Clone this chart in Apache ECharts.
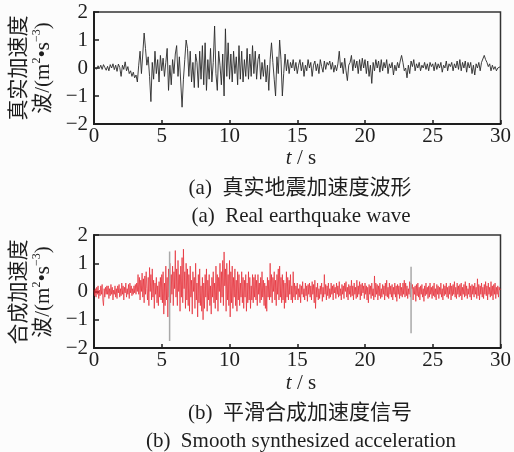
<!DOCTYPE html>
<html>
<head>
<meta charset="utf-8">
<script src="https://cdn.jsdelivr.net/npm/echarts@6.0.0/dist/echarts.min.js"></script>
<style>
html,body{margin:0;padding:0;background:#fcfcfc;}
#chart{width:514px;height:452px;}
</style>
</head>
<body>
<div id="chart"></div>
<script>
// ---------- data ----------
const xTicks = [0, 5, 10, 15, 20, 25, 30];
const yTicks = [-2, -1, 0, 1, 2];

// (a) real earthquake wave, sampled every 0.1 s from t = 0
const realDt = 0.1;
const realWave = [
  0.00,0.05,-0.04,0.08,-0.02,0.10,-0.05,0.12,0.02,-0.08,
  0.06,-0.10,0.12,0.00,0.15,-0.06,0.10,-0.12,0.14,0.02,
  -0.30,0.10,-0.05,0.22,-0.10,0.05,-0.20,-0.10,-0.30,-0.15,
  -0.35,-0.25,-0.50,0.10,0.60,-0.20,0.50,1.25,0.70,0.10,
  0.40,-0.30,-1.20,0.20,-0.40,0.60,-0.20,0.30,-0.50,0.45,
  -0.10,0.35,-0.30,0.20,0.70,-0.80,0.10,-0.60,0.30,-0.20,
  0.50,0.80,-0.30,0.40,-0.50,-1.40,-0.40,0.30,1.00,0.70,
  -0.30,0.60,-0.50,0.20,-0.70,0.50,0.20,-0.70,0.60,-0.40,
  0.80,-0.60,0.90,-0.80,0.30,-0.40,0.70,-0.50,0.20,1.50,
  -0.20,-0.80,0.60,0.10,-0.60,0.50,-1.00,1.40,-0.30,0.90,
  -0.40,0.50,-0.50,0.60,-0.20,0.40,-0.60,0.80,-0.40,0.60,
  -0.50,0.30,-0.30,0.70,-0.40,0.50,-0.30,0.80,-0.20,0.60,
  -0.40,0.30,0.50,-0.40,0.20,-0.30,0.30,-0.50,0.10,-0.80,
  0.30,0.90,0.20,-0.40,-1.00,0.40,-0.20,1.00,0.30,-1.00,
  -0.20,0.50,-0.10,0.30,-0.20,0.20,0.00,0.30,-0.10,0.20,
  -0.20,0.10,0.30,-0.10,0.20,-0.30,0.10,-0.10,0.30,0.00,
  0.20,-0.30,0.10,0.25,-0.10,0.15,-0.20,0.30,0.05,-0.15,
  0.25,-0.05,0.20,0.10,0.25,-0.05,0.20,-0.15,0.10,-0.10,
  0.15,0.60,0.00,0.20,-0.20,0.35,-0.10,-0.45,0.10,0.20,
  0.45,-0.10,0.30,0.00,0.25,-0.20,0.30,-0.10,0.35,0.00,
  0.30,-0.20,0.25,-0.30,0.10,-0.55,0.20,-0.10,0.30,0.00,
  0.25,-0.15,0.30,-0.10,0.20,0.00,0.30,-0.20,0.15,0.00,
  0.20,-0.25,0.10,-0.10,0.20,0.00,0.25,0.45,0.20,-0.10,
  0.00,-0.35,0.10,-0.20,0.25,0.05,0.30,-0.10,0.15,0.00,
  0.20,-0.10,0.10,0.00,0.20,-0.05,0.15,-0.10,0.20,0.05,
  0.15,-0.10,0.20,-0.05,0.15,0.00,0.20,-0.15,0.10,0.00,
  0.25,-0.10,0.15,0.05,0.20,-0.10,0.15,0.00,0.25,-0.05,
  0.30,-0.10,0.20,0.00,0.25,-0.15,0.20,0.00,0.20,-0.20,
  0.10,-0.25,0.15,0.00,0.20,-0.10,0.20,0.15,0.45,0.30,
  0.20,0.05,0.15,-0.10,0.10,-0.05,0.05,-0.10,0.00,-0.05,
  0.05
];

// (b) smooth synthesized acceleration, sampled every 0.05 s from t = 0
const synthDt = 0.05;
const synthWave = [
  0.05,-0.15,0.1,-0.2,0.15,-0.1,0.2,-0.25,0.05,-0.15,0.2,-0.1,0.25,-0.3,-0.5,0.1,-0.2,0.15,-0.1,0.2,
  -0.1,0.2,-0.25,0.1,-0.15,0.25,-0.1,0.15,-0.3,0.05,-0.1,0.2,-0.2,0.1,-0.25,0.2,-0.05,0.25,-0.2,0.1,
  -0.15,0.3,-0.1,0.2,-0.3,0.15,-0.05,0.3,-0.2,0.1,-0.1,0.25,-0.25,0.3,-0.05,0.2,-0.15,0.1,-0.1,0.2,
  -0.05,0.25,-0.1,0.3,0.0,0.6,-0.1,0.5,-0.3,0.4,0.0,0.65,-0.2,0.45,-0.4,0.55,-0.1,0.7,0.1,-0.3,
  0.5,-0.5,0.85,0.0,0.6,-0.3,0.8,-0.2,0.4,-0.6,0.3,-0.1,0.5,-0.4,0.2,-0.5,0.35,-0.2,0.5,-0.3,
  0.6,-0.4,0.7,-0.8,0.3,-0.5,0.9,-0.3,0.5,-0.9,0.8,-0.2,1.0,-0.4,0.6,-0.1,0.9,-0.5,0.7,0.1,
  1.45,-0.2,0.8,-0.5,1.1,0.0,0.6,-0.7,0.9,-0.2,1.2,-0.4,1.5,0.1,0.7,-0.6,1.0,-0.3,0.8,-0.5,
  0.6,-0.7,0.9,-0.2,0.4,-0.8,0.7,0.0,0.5,-0.6,1.0,-0.3,0.3,-0.9,0.6,-0.4,0.8,-0.5,0.2,-0.7,
  0.5,-1.0,0.3,-0.6,0.6,-0.2,0.8,-0.7,0.4,-0.3,0.6,-0.5,0.2,-0.8,0.5,-0.2,0.7,-0.4,0.3,-0.6,
  0.9,-0.3,0.6,-0.7,0.5,0.0,1.0,-0.4,0.7,-0.2,1.1,-0.5,1.4,0.2,0.8,-0.7,1.0,-0.3,0.6,-0.5,
  1.1,-0.9,0.7,-0.4,0.9,-0.6,0.5,-0.2,0.8,-0.5,0.4,-0.7,0.7,-0.3,0.6,-0.5,0.3,-0.2,0.7,-0.4,
  0.5,-0.6,0.4,-0.2,0.6,-0.7,0.3,-0.4,0.7,-0.3,0.5,-0.6,0.2,-0.3,0.6,-0.4,0.5,-0.2,0.6,-0.3,
  0.4,-0.5,0.6,-0.1,0.3,-0.4,0.5,-0.3,0.7,-0.2,0.4,-0.5,0.3,-0.6,0.2,-0.7,0.5,-0.2,0.4,-0.3,
  1.0,-0.2,0.6,-0.4,0.5,0.0,0.7,-0.3,0.4,-0.5,0.6,-0.1,0.8,-0.3,0.9,-0.2,0.5,-0.4,0.6,-0.3,
  0.4,-0.6,0.3,-0.4,0.7,-0.2,0.5,-0.3,0.4,-0.1,0.6,-0.3,0.2,-0.4,0.7,-0.2,0.3,-0.3,0.2,-0.1,
  0.3,-0.3,0.1,-0.2,0.25,-0.4,0.2,-0.1,0.35,-0.2,0.1,-0.3,0.3,-0.15,0.2,-0.35,0.25,-0.1,0.3,-0.2,
  0.2,-0.3,0.35,-0.1,0.25,-0.4,0.4,-0.6,0.15,-0.2,0.3,-0.3,0.1,-0.25,0.2,-0.1,0.3,-0.35,0.15,-0.2,
  0.6,-0.1,0.25,-0.3,0.2,-0.15,0.3,-0.25,0.1,-0.2,0.3,-0.1,0.2,-0.3,0.25,-0.05,0.15,-0.25,0.3,-0.1,
  0.2,-0.2,0.35,-0.15,0.1,-0.3,0.25,-0.1,0.2,-0.25,0.3,0.0,0.35,-0.2,0.15,-0.3,0.25,-0.1,0.2,-0.2,
  0.4,-0.15,0.2,-0.3,0.3,-0.1,0.15,-0.25,0.4,-0.2,0.2,-0.1,0.35,-0.3,0.25,-0.15,0.3,-0.05,0.2,-0.25,
  0.3,-0.1,0.2,-0.3,0.15,-0.4,0.25,-0.1,0.2,-0.25,0.3,-0.15,0.1,-0.3,0.55,-0.2,0.3,-0.1,0.25,-0.3,
  0.2,-0.15,0.3,-0.25,0.1,-0.2,0.25,-0.1,0.2,-0.3,0.3,-0.15,0.4,-0.2,0.15,-0.25,0.3,-0.1,0.2,-0.2,
  0.25,-0.3,0.15,-0.1,0.3,-0.2,0.2,-0.35,0.25,-0.1,0.2,-0.25,0.3,-0.15,0.15,-0.2,0.3,-0.1,0.4,-0.2,
  0.3,-0.15,0.2,-0.25,0.1,-0.1,0.35,-0.2,0.3,0.1,0.25,-0.3,0.15,-0.1,0.2,-0.35,0.25,-0.15,0.3,-0.2,
  0.15,-0.3,0.2,-0.1,0.25,-0.2,0.1,-0.35,0.2,-0.15,0.3,-0.1,0.15,-0.25,0.2,-0.2,0.3,-0.1,0.15,-0.25,
  0.2,-0.15,0.3,-0.2,0.1,-0.3,0.25,-0.1,0.2,-0.25,0.15,-0.1,0.3,-0.2,0.1,-0.3,0.25,-0.15,0.2,-0.1,
  0.3,-0.2,0.15,-0.25,0.2,-0.1,0.3,-0.3,0.2,-0.15,0.25,-0.1,0.35,-0.2,0.15,-0.25,0.3,-0.1,0.2,-0.2,
  0.25,-0.15,0.3,-0.3,0.15,-0.1,0.25,-0.2,0.35,-0.15,0.2,-0.25,0.1,-0.1,0.3,-0.2,0.2,-0.3,0.25,-0.1,
  0.2,-0.2,0.3,-0.1,0.15,-0.25,0.45,-0.15,0.25,-0.3,0.2,-0.1,0.3,-0.2,0.15,-0.25,0.25,-0.1,0.35,-0.15,
  0.2,-0.3,0.3,-0.1,0.15,-0.2,0.35,-0.15,0.2,-0.3,0.25,-0.1,0.3,-0.25,0.15,-0.1,0.2,-0.2,0.15,0.05,
  0.1
];

// gray vertical marker segments in panel (b)
const markerA_t = [5.58, 5.58];
const markerA_v = [1.42, -1.75];
const markerB_t = [23.4, 23.4];
const markerB_v = [0.88, -1.48];

// texts
const captionA_cn = '(a)  真实地震加速度波形';
const captionA_en = '(a)  Real earthquake wave';
const captionB_cn = '(b)  平滑合成加速度信号';
const captionB_en = '(b)  Smooth synthesized acceleration';
const yNameA = '真实加速度';
const yNameB = '合成加速度';

// ---------- chart ----------
const FONT = 'Liberation Serif, Times New Roman, DejaVu Serif, Noto Sans CJK SC, serif';
const INK = '#1e1e1e';
const toPairs = (arr, dt) => arr.map((v, i) => [+(i * dt).toFixed(3), v]);
const zip = (a, b) => a.map((v, i) => [v, b[i]]);

function xAxisCfg(gi) {
  return {
    type: 'value', gridIndex: gi, min: xTicks[0], max: xTicks[xTicks.length - 1], interval: 5,
    axisLine: { show: true, onZero: false, lineStyle: { color: INK, width: 2 } },
    axisTick: { show: true, inside: true, length: 4, lineStyle: { color: INK, width: 1.5 } },
    axisLabel: { margin: 2, fontSize: 21, fontFamily: FONT, color: INK },
    splitLine: { show: false }
  };
}
function yAxisCfg(gi) {
  return {
    type: 'value', gridIndex: gi, min: yTicks[0], max: yTicks[yTicks.length - 1], interval: 1,
    axisLine: { show: true, onZero: false, lineStyle: { color: INK, width: 2 } },
    axisTick: { show: true, inside: true, length: 5, lineStyle: { color: INK, width: 1.5 } },
    axisLabel: { margin: 6, fontSize: 21, fontFamily: FONT, color: INK,
      formatter: v => String(v).replace('-', '\u2212') },
    splitLine: { show: false }
  };
}
function yName(cn, cx, cy) {
  return {
    type: 'text', x: cx, y: cy, rotation: Math.PI / 2, silent: true,
    style: {
      text: '{a|' + cn + '}\n{a|波/(m}{s|2}{a|•s}{s|\u22123}{a|)}',
      align: 'center', verticalAlign: 'middle', fill: INK,
      rich: {
        a: { fontSize: 21, fontFamily: FONT, lineHeight: 24, fill: INK },
        s: { fontSize: 12, fontFamily: FONT, lineHeight: 24, verticalAlign: 'top', fill: INK }
      }
    }
  };
}
function centered(txt, cx, cy) {
  return {
    type: 'text', x: cx, y: cy, silent: true,
    style: { text: txt, align: 'center', verticalAlign: 'middle', fill: INK,
      fontSize: 21, fontFamily: FONT }
  };
}
function tLabel(cx, cy) {
  return {
    type: 'text', x: cx, y: cy, silent: true,
    style: {
      text: '{i|t}{n| / s}', align: 'center', verticalAlign: 'middle', fill: INK,
      fontSize: 21, fontFamily: FONT,
      rich: {
        i: { fontStyle: 'italic', fontSize: 21, fontFamily: FONT, fill: INK },
        n: { fontSize: 21, fontFamily: FONT, fill: INK }
      }
    }
  };
}

const chart = echarts.init(document.getElementById('chart'), null, { renderer: 'canvas' });
chart.setOption({
  backgroundColor: '#fcfcfc',
  animation: false,
  grid: [
    { left: 94, top: 12, width: 414, height: 112, show: true, borderColor: '#333', borderWidth: 1.5, backgroundColor: 'transparent' },
    { left: 94, top: 235, width: 414, height: 113, show: true, borderColor: '#333', borderWidth: 1.5, backgroundColor: 'transparent' }
  ],
  xAxis: [xAxisCfg(0), xAxisCfg(1)],
  yAxis: [yAxisCfg(0), yAxisCfg(1)],
  series: [
    { type: 'line', xAxisIndex: 0, yAxisIndex: 0, showSymbol: false, symbol: 'none',
      data: toPairs(realWave, realDt), lineStyle: { color: '#2a2a2a', width: 0.9 } },
    { type: 'line', xAxisIndex: 1, yAxisIndex: 1, showSymbol: false, symbol: 'none',
      data: toPairs(synthWave, synthDt), lineStyle: { color: '#e4222c', width: 0.8, opacity: 0.85 } },
    { type: 'line', xAxisIndex: 1, yAxisIndex: 1, showSymbol: false, symbol: 'none',
      data: zip(markerA_t, markerA_v), lineStyle: { color: '#a9a9a9', width: 1.5 } },
    { type: 'line', xAxisIndex: 1, yAxisIndex: 1, showSymbol: false, symbol: 'none',
      data: zip(markerB_t, markerB_v), lineStyle: { color: '#a9a9a9', width: 1.5 } }
  ],
  graphic: [
    yName(yNameA, 31, 68),
    yName(yNameB, 31, 292),
    tLabel(301, 158),
    tLabel(301, 383),
    centered(captionA_cn, 300, 188),
    centered(captionA_en, 301, 216),
    centered(captionB_cn, 300, 413),
    centered(captionB_en, 301, 441)
  ]
});
</script>
</body>
</html>
